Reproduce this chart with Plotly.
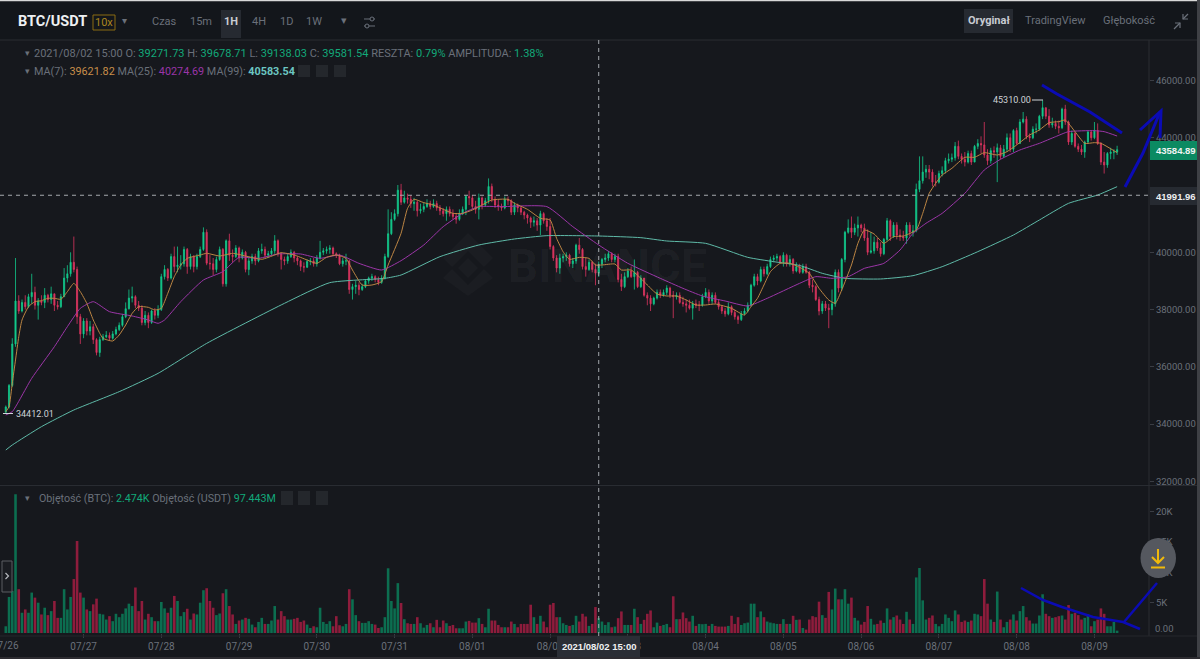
import pandas as pd
import plotly.graph_objects as go

START = "2021-07-26 00:00"

closes = [
 34600,35350,36800,38300,37950,38250,38100,38450,38600,38150,38300,38250,38500,38350,38550,38150,38100,38450,39100,39250,39650,39400,37750,37150,
 37600,37250,37400,36950,36500,36950,37050,37100,37000,37150,37300,37450,37750,38030,38400,38450,38150,38050,37550,37800,37550,37950,37800,38000,
 39150,39400,39100,39850,39500,39550,39600,40100,39500,39850,39500,39850,40100,40700,39620,39600,39400,39750,40100,38900,40400,39900,39850,40150,
 39800,40000,39400,39700,39850,39700,40050,40100,39900,39950,40050,40400,39950,39750,39700,39850,40000,39800,39700,39500,39480,39680,39700,39600,
 39800,40000,40050,40100,40150,39950,39900,39600,39700,39700,38700,38800,38850,38700,38800,39000,39100,39150,39050,38950,39100,39850,40650,41150,
 41350,42170,41750,41900,41850,41700,41750,41450,41500,41600,41700,41600,41700,41550,41450,41350,41500,41350,41250,41150,41350,41500,41950,41900,
 41600,41500,41900,41650,41800,42300,41850,41650,41600,41550,41850,41800,41400,41650,41550,41400,41300,41200,41050,41100,40950,41350,41100,40900,
 40200,39800,39450,39800,39850,39900,39600,39700,40250,40100,39500,39400,39650,39400,39271.73,39581.54,39750,39800,39950,39750,39850,39050,38800,39150,
 39350,39150,39300,38800,39100,38500,38400,38200,38400,38600,38500,38600,38750,38500,38450,38500,38250,38200,38150,38050,38200,38150,38150,38450,
 38600,38300,38500,38250,38100,37950,37850,38100,37900,37750,37650,37850,37950,38150,38850,39150,39000,39400,39250,39500,39750,39800,39850,39650,
 39900,39600,39750,39350,39500,39300,39500,39300,38850,38800,38350,37950,38200,38050,38000,38200,39300,38750,39750,40700,40850,40700,40850,40950,
 40850,40500,40000,40050,40350,40150,39950,40450,41100,40550,40950,40600,40550,40500,40950,40700,40750,42200,42500,42800,42900,42800,42450,42450,
 42750,42850,43200,43250,43300,43700,43350,43250,43150,43450,43150,43700,43800,43750,43400,43200,43550,43500,43650,43350,43600,44000,43600,44250,
 43800,44550,44650,44050,44000,44300,44300,44750,45050,44750,44450,44500,44400,44350,45000,44550,43850,44150,43700,43600,43500,43850,44200,44000,
 44250,43800,43150,43050,43450,43500,43500,43584.89,
]
highs = [
 34650,35400,37000,39800,38500,38350,38500,38550,39250,38800,38400,38500,38750,38550,38800,38550,38300,38550,39450,39550,40000,40550,39500,37850,
 37700,37700,37600,37500,37000,37050,37150,37250,37200,37250,37400,37550,37850,38250,38700,38800,38500,38300,38150,37950,37900,38000,38050,38150,
 39250,39550,39450,39950,40200,40200,39900,40200,40150,39950,39900,39950,40200,40870,40800,39900,39800,39850,40200,40150,40450,40650,40100,40250,
 40200,40100,40050,39850,39950,39950,40150,40300,40200,40050,40150,40600,40450,40000,39850,39950,40100,40050,39850,39750,39650,39750,39800,39800,
 39900,40400,40150,40200,40250,40200,40000,39950,39800,39950,39750,38900,39000,38950,38900,39050,39150,39250,39200,39150,39200,39950,41500,41400,
 41500,42350,42390,42150,42050,42000,41900,41800,41700,41750,41850,41800,41850,41800,41650,41550,41600,41600,41500,41350,41500,41600,42000,42150,
 42000,41800,42050,41950,41900,42580,42400,41950,41850,41700,41950,41950,41850,41750,41700,41600,41450,41350,41250,41250,41200,41450,41400,41200,
 41200,40250,39900,39950,39950,40000,39950,39800,40300,40500,40150,39800,39750,39700,39600,39678.71,39800,39950,40050,40000,39950,39950,39250,39300,
 39450,39500,39750,39350,39200,39050,38600,38500,38450,38700,38700,38700,38850,38800,38650,38600,38600,38450,38350,38350,38300,38350,38300,38550,
 38750,38700,38600,38600,38350,38150,38050,38250,38150,38000,37800,37950,38050,38250,38900,39250,39250,39500,39500,39600,39850,39900,39950,39900,
 40000,39950,39900,39800,39650,39600,39600,39600,39350,39050,38850,38450,38300,38300,38200,38700,39400,39400,39800,40750,41150,41250,41000,41250,
 41000,41000,40800,40700,40550,40500,40350,40500,41200,41150,41050,41050,40800,40750,41050,41050,40950,42400,43350,43350,43050,43050,42900,42700,
 42850,43000,43300,43450,43450,43850,43900,43450,43500,43550,43550,43750,43950,44050,44550,43600,43650,43700,43800,43750,43750,44150,44150,44300,
 44350,44650,44900,44750,44150,44400,44500,44800,45310,45050,45000,44700,44600,44600,45050,45150,44600,44250,44200,43800,43750,43900,44250,44250,
 44550,44500,43850,43500,43500,43650,43600,43720,
]
lows = [
 34412,34550,35300,36700,37850,37900,38000,38050,38200,38000,37650,38150,38050,38250,38200,37950,38000,38050,38450,38950,39150,39300,37500,36800,
 37000,37100,37100,36800,36400,36350,36900,37000,36900,36950,37100,37250,37400,37700,38000,38250,38050,37950,37450,37450,37350,37500,37650,37700,
 37950,39050,39000,39050,39300,39300,39400,39500,39250,39400,39300,39400,39800,40050,39550,39400,39200,39300,39700,38800,38800,39700,39650,39800,
 39650,39750,39300,39200,39600,39550,39650,39950,39800,39800,39900,39950,39850,39400,39550,39600,39800,39650,39550,39350,39300,39450,39550,39500,
 39500,39750,39900,39950,39950,39900,39800,39550,39500,39550,38550,38350,38550,38500,38650,38750,38900,39000,38950,38850,38900,39050,39800,40600,
 41100,41250,41650,41700,41700,41550,41450,41250,41350,41400,41550,41500,41550,41450,41300,41250,41100,41250,41150,41000,41100,41300,41300,41650,
 41500,41350,41150,41500,41600,41700,41750,41550,41450,41450,41500,41650,41300,41300,41400,41300,41150,41000,40850,40900,40750,40600,41000,40750,
 40100,39700,39300,39250,39650,39700,39500,39450,39600,39950,39400,39150,39350,39300,38850,39138.03,39450,39650,39700,39650,39650,38950,38650,38750,
 39100,39100,38700,38750,38750,38450,38150,37950,38150,38350,38400,38450,38500,38400,37700,38350,38200,38100,37900,38000,37650,38050,37950,38100,
 38400,38200,38200,38200,38000,37850,37750,37800,37800,37650,37500,37600,37800,37900,38100,38800,38850,38950,39150,39200,39450,39650,39700,39600,
 39500,39500,39500,39250,39300,39250,39250,39250,38750,38600,38300,37800,37850,37950,37350,37800,38100,38600,38650,39650,40650,40500,40600,40550,
 40700,40400,39900,39950,39950,40050,39850,39900,40400,40400,40500,40450,40400,40400,40300,40550,40550,40700,42100,42400,42600,42550,42300,42300,
 42400,42650,42750,43100,43150,43200,43250,43100,43000,43100,43050,43150,43600,43450,43300,43050,43100,43300,42450,43250,43300,43500,43500,43500,
 43750,43800,44500,43950,43850,43950,44150,44250,44650,44650,44350,44350,44300,44150,44300,44450,43750,43750,43650,43500,43400,43300,43800,43900,
 43950,43750,43050,42750,42950,43250,43250,43400,
]
first_open = 34412.01
volumes = [
 1110,5950,6950,22900,7230,3340,3890,3340,6670,5840,5000,3060,4170,2950,3610,5280,2500,2500,7230,3890,5950,8900,15180,6670,
 5840,3890,3610,4730,5670,3170,3060,2220,2780,1950,3170,2610,3170,4060,4840,4450,7510,3610,5280,2220,3170,2610,1950,1950,
 5120,4060,3340,4170,6120,5280,2780,3450,4000,2220,3220,3060,5000,7060,7390,5280,4170,2950,3220,6560,7230,4450,3060,1500,
 2060,2220,2500,2340,1390,950,1830,2500,1500,1500,2060,4450,2220,3610,2780,2220,2220,2340,2500,1830,2060,1390,830,1110,
 950,4170,1830,1500,1950,1110,2780,1280,1110,1500,7230,5560,2950,1950,1670,1670,1950,1500,1390,830,950,2610,10680,5280,
 4060,8230,4950,2280,1610,1500,1500,2610,1610,890,1330,1610,950,2170,950,2060,1610,1170,1330,780,780,780,1890,2000,
 1720,1720,2450,1500,950,4000,2060,2060,1330,950,950,950,1890,1500,950,1500,1500,1500,4670,2610,1500,2840,1890,950,
 4670,4950,2610,2610,1610,1330,1170,1330,2840,1890,3170,2720,1170,1500,4280,2474,1890,1330,1780,950,1060,2450,3560,1330,
 1330,1330,4000,2610,1500,2170,3170,3720,950,1720,1170,1330,1500,950,6060,2280,2280,3390,2450,1890,2840,1170,1500,1450,
 1500,1170,1500,1170,1060,1060,1060,1170,2840,1500,2610,1330,1610,1720,4840,4840,2610,3560,2610,1890,1720,1610,1500,1500,
 2280,1500,1500,2840,2170,2220,830,560,2220,2780,2610,5170,2950,2500,6780,3890,7340,5560,5560,7230,4840,5840,2500,2060,
 1390,1830,4450,2340,1390,1500,2060,1670,4060,2220,2610,2890,2220,1500,3500,2220,1500,9170,10730,5390,2220,2500,2890,1500,
 1110,1500,3060,2500,1950,3730,3060,1830,2060,1830,2060,3170,3060,2780,8900,4840,2220,1830,6840,2220,950,1830,2220,3060,
 2060,3610,4450,2610,2060,1560,1560,2890,6390,3170,2780,2500,2610,2780,2890,2220,4610,3170,3340,2950,2220,2500,3060,1110,
 1950,2220,4060,3170,1110,1110,1830,390,
]

ma7_hours = [0,1,2,3,4,5,7,9,11,13,15,17,19,21,23,25,27,29,30,33,35,37,39,41,44,46,48,50,52,54,56,60,62,66,70,74,79,83,85,89,93,96,99,102,105,107,110,113,116,118,122,124,126,129,132,135,138,141,144,147,150,155,157,161,165,168,170,172,174,177,180,182,184,188,190,193,196,198,201,204,207,210,213,216,219,224,228,230,232,234,236,239,242,245,248,251,254,256,258,261,263,265,268,271,274,277,281,283,285,287,289,292,296,299,302,306,309,312,316,319,322,325,327,330,333,336,338,343]
ma7_values = [34435,34610,35425,36240,37054,37636,38102,38276,38311,38393,38393,38358,38625,38917,38625,38218,37636,37170,36996,36903,37112,37461,37869,38102,38078,37985,38043,38567,39149,39557,39789,39906,39964,39871,39964,39871,39755,39906,39987,39906,39731,39615,39825,39906,39789,39382,38858,38858,38975,39557,40663,41535,41850,41733,41652,41500,41360,41360,41477,41652,41826,41850,41710,41500,41186,41128,40488,40022,39754,39824,39789,39557,39557,39591,39382,39382,39091,38858,38544,38474,38474,38335,38160,38160,38195,38043,37810,38102,38393,38858,39324,39615,39615,39475,39266,38742,38335,38218,38684,39557,40313,40779,40639,40313,40546,40569,40779,41361,42059,42409,42700,42932,43317,43317,43480,43398,43514,43747,44096,44271,44527,44562,44620,44213,43805,43829,43805,43480]

ma25_hours = [0,2,8,15,19,23,27,32,39,44,47,49,54,61,67,72,78,84,91,97,103,109,116,122,129,135,141,146,153,167,175,183,192,202,209,215,222,229,235,245,250,255,260,265,271,276,280,284,289,296,302,307,313,319,324,328,336,339,343]
ma25_values = [34320,34435,35600,36705,37403,38043,38276,37927,37776,37636,37520,37636,38276,39033,39324,39824,39789,39941,39941,39789,39906,39615,39382,39708,40255,40895,41360,41594,41594,41594,40895,40255,39615,39091,38742,38474,38300,38125,38393,38916,39149,39091,39149,39440,39615,40080,40663,41012,41361,42059,42874,43247,43573,43805,44038,44213,44248,44213,44061]

ma99_hours = [0,2,11,21,35,47,62,86,100,117,122,134,146,157,167,183,196,204,216,229,237,245,252,259,270,280,289,300,311,319,328,337,343]
ma99_values = [33096,33271,33911,34493,35133,35773,36820,38218,38940,39091,39207,39848,40255,40465,40581,40569,40511,40395,40313,39824,39673,39540,39266,39091,39068,39184,39498,40022,40604,41128,41710,42001,42292]

price_ticks = [32000,34000,36000,38000,40000,44000,46000]
volume_ticks = [5000,10000,15000,20000]
volume_tick_labels = ["5K","10K","15K","20K"]
day_labels = ["07/26","07/27","07/28","07/29","07/30","07/31","08/01","08/02","08/03","08/04","08/05","08/06","08/07","08/08","08/09"]

CROSS_HOUR = 183
CROSS_PRICE = 41991.96
LAST_PRICE = 43584.89

BG = "#16181d"
BAR = "#13161b"
GRID = "#2a2d33"
MUTED = "#6a707a"
GREEN = "#12a97a"
FONT = "Roboto"

t0 = pd.Timestamp(START)
hour = lambda h: t0 + pd.Timedelta(hours=h)
dates = [hour(i) for i in range(len(closes))]
opens = [first_open] + closes[:-1]
vol_colors = ["#0c6e50" if c >= o else "#8e1c3c" for c, o in zip(closes, opens)]
day_ticks = [hour(24 * i) for i in range(1, len(day_labels))]

px = lambda x: x / 1200
py = lambda y: 1 - y / 659

fig = go.Figure()
fig.add_trace(go.Bar(x=dates, y=volumes, width=3600000 * 0.8, marker=dict(color=vol_colors, line_width=0),
                     xaxis="x", yaxis="y2", name="Volume"))
fig.add_trace(go.Candlestick(x=dates, open=opens, high=highs, low=lows, close=closes, xaxis="x", yaxis="y",
                             name="BTC/USDT", whiskerwidth=0,
                             increasing=dict(line=dict(color="#13c98c", width=0.8), fillcolor="#13c98c"),
                             decreasing=dict(line=dict(color="#dc3560", width=0.8), fillcolor="#dc3560")))
for name, hrs, vals, col in [("MA(99)", ma99_hours, ma99_values, "#5fbaa8"),
                             ("MA(25)", ma25_hours, ma25_values, "#9c36a8"),
                             ("MA(7)", ma7_hours, ma7_values, "#bd8644")]:
    fig.add_trace(go.Scatter(x=[hour(h) for h in hrs], y=vals, mode="lines", name=name, xaxis="x", yaxis="y",
                             line=dict(color=col, width=1, shape="spline", smoothing=0.5)))

shapes = []
ann = []


def rect(x0, y0, x1, y1, fill, line=None, layer="above", lw=1):
    shapes.append(dict(type="rect", xref="paper", yref="paper", x0=px(x0), x1=px(x1), y0=py(y0), y1=py(y1),
                       fillcolor=fill, line=dict(color=line or fill, width=lw if line else 0), layer=layer))


def poly(points, color, width=1, close=False, fill=None, layer="above"):
    d = "M" + " L".join(f"{px(x):.5f},{py(y):.5f}" for x, y in points) + (" Z" if close else "")
    shapes.append(dict(type="path", xref="paper", yref="paper", path=d, layer=layer,
                       fillcolor=fill or "rgba(0,0,0,0)", line=dict(color=color, width=width)))


def txt(x, y, s, size=10.5, color=MUTED, anchor="left", family=FONT):
    ann.append(dict(x=px(x), y=py(y), xref="paper", yref="paper", text=s, showarrow=False, xanchor=anchor,
                    yanchor="middle", borderpad=0, borderwidth=0, font=dict(family=family, size=size, color=color)))


def span(s, color):
    return f'<span style="color:{color}">{s}</span>'


# toolbar background and frame
rect(0, 0, 1200, 40, BAR, layer="below")
rect(0, 0, 1200, 1.2, "#d8d8d8")
rect(1197, 0, 1200, 659, "#3e4045")
rect(0, 657, 1200, 659, "#2d2c31")
poly([(0, 40), (1197, 40)], GRID)
poly([(1149, 40), (1149, 636)], GRID)
poly([(0, 485.5), (1197, 485.5)], GRID)
poly([(0, 636), (1197, 636)], "#24272c")

# toolbar
txt(18, 22, "<b>BTC/USDT</b>", 14.5, "#eef0f2")
rect(93, 15, 115, 30, "rgba(0,0,0,0)", "#8a6a12")
txt(104, 22.5, "10x", 11, "#a9851f", "center")
txt(124, 21, "▾", 10, MUTED, "center")
txt(164, 22, "Czas", 11, MUTED, "center")
txt(200.5, 22, "15m", 11, MUTED, "center")
rect(221, 10, 241, 38, "#262a31")
txt(231, 22, "<b>1H</b>", 11, "#c8ccd2", "center")
txt(258.5, 22, "4H", 11, MUTED, "center")
txt(286, 22, "1D", 11, MUTED, "center")
txt(314, 22, "1W", 11, MUTED, "center")
txt(344, 21, "▾", 11, MUTED, "center")
poly([(364, 19), (375, 19)], MUTED)
poly([(364, 26), (375, 26)], MUTED)
shapes.append(dict(type="circle", xref="paper", yref="paper", x0=px(370), x1=px(374), y0=py(21), y1=py(17),
                   fillcolor=BAR, line=dict(color=MUTED, width=1)))
shapes.append(dict(type="circle", xref="paper", yref="paper", x0=px(365), x1=px(369), y0=py(28), y1=py(24),
                   fillcolor=BAR, line=dict(color=MUTED, width=1)))
rect(964, 9, 1013, 33, "#262a31")
txt(989, 21, "<b>Oryginał</b>", 11, "#c8ccd2", "center")
txt(1055.5, 21, "TradingView", 11, MUTED, "center")
txt(1129, 21, "Głębokość", 11, MUTED, "center")
poly([(1174, 29), (1180, 23)], MUTED, 1.2)
poly([(1175, 23), (1180, 23), (1180, 28)], MUTED, 1.2)
poly([(1188, 14), (1183, 19)], MUTED, 1.2)
poly([(1183, 14), (1183, 19), (1188, 19)], MUTED, 1.2)

# status lines
txt(27, 53, "▾", 9, MUTED, "center")
txt(27, 71, "▾", 9, MUTED, "center")
txt(34, 53, "2021/08/02 15:00 O: " + span("39271.73", GREEN) + " H: " + span("39678.71", GREEN) + " L: " +
    span("39138.03", GREEN) + " C: " + span("39581.54", GREEN) + " RESZTA: " + span("0.79%", GREEN) +
    " AMPLITUDA: " + span("1.38%", GREEN), 11)
txt(34, 71, "MA(7): " + span("39621.82", "#c98f4a") + " MA(25): " + span("40274.69", "#9a35a8") + " MA(99): " +
    span("<b>40583.54</b>", "#6cc6c2"), 10.8)
for x0 in (298, 316, 334):
    rect(x0, 65, x0 + 12, 77, "#24272c")
txt(27, 498, "▾", 9, MUTED, "center")
txt(39, 498, "Objętość (BTC): " + span("2.474K", GREEN) + " Objętość (USDT) " + span("97.443M", GREEN), 10.7)
for x0 in (281, 298, 316):
    rect(x0, 491, x0 + 12, 505, "#24272c")

# watermark
wm = "rgba(255,255,255,0.022)"
for pts in ([(468, 233), (493, 258), (484, 267), (468, 251), (452, 267), (443, 258)],
            [(468, 258), (478, 268), (468, 278), (458, 268)],
            [(452, 269), (468, 285), (484, 269), (493, 278), (468, 296), (443, 278)]):
    poly(pts, "rgba(0,0,0,0)", 0, True, wm)
txt(607, 265, "<b>BINANCE</b>", 47, "rgba(255,255,255,0.04)", "center")

# crosshair
shapes.append(dict(type="line", xref="x", yref="paper", x0=hour(CROSS_HOUR), x1=hour(CROSS_HOUR), y0=py(636), y1=py(40),
                   line=dict(color="#a5a8ad", width=1, dash="4px,4px"), layer="above"))
shapes.append(dict(type="line", xref="paper", yref="y", x0=0, x1=px(1149), y0=CROSS_PRICE, y1=CROSS_PRICE,
                   line=dict(color="#a5a8ad", width=1, dash="4px,4px"), layer="above"))

# price tags
rect(1150, 141, 1197, 160, "#0b8a62")
txt(1176, 150.5, "<b>43584.89</b>", 9.5, "#f0f3f2", "center", "Liberation Sans")
rect(1150, 187, 1197, 205, "#262a31")
txt(1176, 196, "<b>41991.96</b>", 9.5, "#eceef0", "center", "Liberation Sans")
rect(557, 636, 640, 657, "#2a2e35")
txt(598.5, 646, "<b>2021/08/02 15:00</b>", 9.5, "#f0f1f3", "center", "Liberation Sans")
txt(1155, 628, "0.00", 9.5, MUTED)
txt(5.8, 645.5, "07/26", 10, MUTED, "center")

# extreme labels
txt(993, 100, "45310.00", 9, "#cfd3d8")
poly([(1032, 100), (1043, 100)], "#cfd3d8", 1)
txt(16, 413.5, "34412.01", 9, "#cfd3d8")
poly([(3, 413.5), (13, 413.5)], "#cfd3d8", 1)

# side handle
shapes.append(dict(type="rect", xref="paper", yref="paper", x0=px(2), x1=px(12), y0=py(592), y1=py(561),
                   fillcolor="#1a1c21", line=dict(color="#5a5d63", width=1), layer="above"))
poly([(5.5, 573), (8.5, 576), (5.5, 579)], "#b5b8bd", 1.2)

# hand-drawn blue marks
BLUE = "#0b0bb4"
poly([(1042, 85), (1057, 94), (1090, 112), (1122, 133)], BLUE, 3)
poly([(1125, 187), (1143, 153), (1160, 112)], BLUE, 3)
poly([(1140, 130), (1161, 111), (1160, 138)], BLUE, 3)
poly([(1021, 588), (1043, 600), (1062, 607), (1093, 617), (1123, 622), (1140, 629)], BLUE, 2.5)
poly([(1124, 622), (1157, 583)], BLUE, 2.5)

# scroll-down button
shapes.append(dict(type="circle", xref="paper", yref="paper", x0=px(1140.5), x1=px(1176), y0=py(578), y1=py(538),
                   fillcolor="#55585f", line=dict(width=0), layer="above"))
poly([(1158, 549), (1158, 563)], "#f0b90b", 2)
poly([(1152, 557), (1158, 563), (1164, 557)], "#f0b90b", 2)
poly([(1151, 567.5), (1165, 567.5)], "#f0b90b", 2)

fig.update_layout(
    width=1200, height=659, margin=dict(l=0, r=0, t=0, b=0), paper_bgcolor=BG, plot_bgcolor=BG,
    showlegend=False, boxgap=0.5, bargap=0.25, font=dict(family=FONT, size=10, color=MUTED),
    shapes=shapes, annotations=ann,
    xaxis=dict(domain=[0, 1149 / 1200], anchor="y2", type="date", rangeslider=dict(visible=False),
               range=[hour(-5.8 / 3.24), hour((1149 - 5.8) / 3.24)], showgrid=False, zeroline=False, showline=False,
               tickmode="array", tickvals=day_ticks, ticktext=day_labels[1:], ticks="outside", ticklen=4,
               tickcolor="#3a3d44", tickfont=dict(family=FONT, size=10, color=MUTED)),
    yaxis=dict(domain=[py(485.5), py(40)], range=[40000 - (485.5 - 252.3) * 34.92, 40000 + (252.3 - 40) * 34.92],
               side="right", anchor="x", showgrid=False, zeroline=False, showline=False, tickmode="array",
               tickvals=price_ticks, ticktext=[f"{v:.2f}" for v in price_ticks], ticks="outside", ticklen=4,
               tickcolor="#3a3d44", tickfont=dict(family=FONT, size=9.5, color=MUTED)),
    yaxis2=dict(domain=[py(633), py(485.5)], range=[0, (633 - 485.5) / 30.3 * 5000], side="right", anchor="x",
                showgrid=False, zeroline=False, showline=False, tickmode="array", tickvals=volume_ticks,
                ticktext=volume_tick_labels, ticks="outside", ticklen=4, tickcolor="#3a3d44",
                tickfont=dict(family=FONT, size=9.5, color=MUTED)),
)

fig.write_html("out.html", config=dict(displayModeBar=False),
               post_script="document.body.style.margin='0';document.documentElement.style.overflow='hidden';")
